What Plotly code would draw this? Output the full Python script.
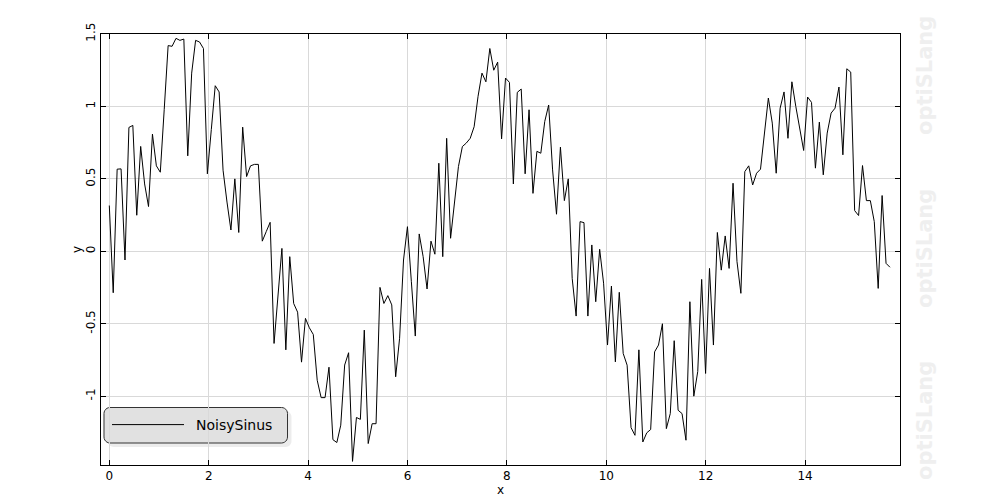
import math
import numpy as np
import plotly.graph_objects as go

# ---- data ----
series_name = "NoisySinus"
x_start = 0.0
x_end = 5 * np.pi
y_values = [
    0.316, -0.286, 0.567, 0.569, -0.06, 0.855, 0.869, 0.249, 0.724, 0.465,
    0.309, 0.809, 0.59, 0.546, 0.98, 1.42, 1.415, 1.47, 1.456, 1.465,
    0.659, 1.23, 1.456, 1.445, 1.40, 0.535, 0.84, 1.143, 1.10, 0.56,
    0.34, 0.147, 0.50, 0.13, 0.857, 0.516, 0.59, 0.60, 0.60, 0.07,
    0.136, 0.20, -0.636, -0.31, 0.02, -0.68, -0.037, -0.36, -0.42, -0.765,
    -0.463, -0.528, -0.574, -0.89, -1.01, -1.01, -0.80, -1.30, -1.32, -1.20,
    -0.785, -0.70, -1.45, -1.147, -1.16, -0.544, -1.327, -1.19, -1.19, -0.249,
    -0.36, -0.306, -0.37, -0.866, -0.60, -0.06, 0.17, -0.21, -0.585, 0.12,
    -0.037, -0.26, 0.07, -0.02, 0.608, -0.037, 0.78, 0.09, 0.33, 0.585,
    0.723, 0.747, 0.78, 0.86, 1.07, 1.23, 1.17, 1.40, 1.25, 1.306,
    0.776, 1.196, 1.166, 0.465, 1.097, 1.12, 0.535, 0.977, 0.40, 0.69,
    0.677, 0.896, 1.01, 0.562, 0.256, 0.719, 0.35, 0.50, -0.187, -0.447,
    0.205, 0.198, -0.447, 0.044, -0.348, 0.014, -0.22, -0.647, -0.24, -0.763,
    -0.283, -0.705, -0.786, -1.217, -1.27, -0.68, -1.316, -1.253, -1.23, -0.694,
    -0.647, -0.50, -1.224, -1.12, -0.617, -1.097, -1.12, -1.304, -0.348, -1.0,
    -0.83, -0.194, -0.843, -0.118, -0.647, 0.13, -0.13, 0.106, -0.118, 0.47,
    -0.07, -0.29, 0.55, 0.59, 0.458, 0.539, 0.567, 0.816, 1.058, 0.885,
    0.539, 0.988, 1.10, 0.78, 1.17, 1.0, 0.84, 0.696, 1.065, 1.028,
    0.574, 0.892, 0.528, 0.816, 0.954, 0.988, 1.134, 0.666, 1.26, 1.237,
    0.281, 0.247, 0.592, 0.35, 0.35, 0.205, -0.256, 0.385, -0.083, -0.11,
]
x_values = np.linspace(x_start, x_end, len(y_values))
x_ticks = [0, 2, 4, 6, 8, 10, 12, 14]
y_ticks = [-1, -0.5, 0, 0.5, 1, 1.5]
y_tick_labels = ["-1", "-0.5", "0", "0.5", "1", "1.5"]
watermark = "optiSLang"

# ---- layout geometry (screen pixels; page body adds an 8px offset) ----
W, H = 1000, 500
OFF = 8
L, R, T, B = 101, 900, 34, 465   # plot frame on screen
FONT = "DejaVu Sans"


def px2paper(px, py):
    return (px - L) / (R - L), (B - py) / (B - T)


def rounded_rect(x0, y0, x1, y1, r):
    pts = []
    corners = [(x1 - r, y0 + r, -90, 0), (x1 - r, y1 - r, 0, 90),
               (x0 + r, y1 - r, 90, 180), (x0 + r, y0 + r, 180, 270)]
    for cx, cy, a0, a1 in corners:
        for k in range(7):
            a = math.radians(a0 + (a1 - a0) * k / 6)
            pts.append(px2paper(cx + r * math.cos(a), cy + r * math.sin(a)))
    return "M " + " L ".join(f"{p[0]:.5f},{p[1]:.5f}" for p in pts) + " Z"


fig = go.Figure()
fig.add_trace(go.Scatter(
    x=x_values, y=y_values, mode="lines", name="\u2002" + series_name,
    line=dict(color="black", width=1), showlegend=True,
))

shapes = [
    dict(type="path", xref="paper", yref="paper", layer="below",
         path=rounded_rect(108, 411, 291.5, 447, 6),
         fillcolor="#ececec", line=dict(width=0)),
    dict(type="path", xref="paper", yref="paper", layer="below",
         path=rounded_rect(104, 407.5, 287.5, 443, 6),
         fillcolor="#e1e1e1", line=dict(color="#333333", width=1)),
]

annotations = []
for cy in [76, 249, 421]:
    ax, ay = px2paper(925, cy)
    annotations.append(dict(
        text=f"<b>{watermark}</b>", x=ax, y=ay, xref="paper", yref="paper",
        showarrow=False, textangle=-90, xanchor="center", yanchor="middle",
        font=dict(family=FONT, size=21, color="#efefef"),
    ))

lx, ly = px2paper(107, 425)

fig.update_layout(
    width=W, height=H,
    margin=dict(l=L - OFF, r=W - (R - OFF), t=T - OFF, b=H - (B - OFF), pad=0),
    paper_bgcolor="white", plot_bgcolor="white",
    font=dict(family=FONT, size=12, color="black"),
    shapes=shapes,
    annotations=annotations,
    showlegend=True,
    legend=dict(
        x=lx, y=ly, xanchor="left", yanchor="middle",
        bgcolor="rgba(0,0,0,0)", borderwidth=0,
        font=dict(family=FONT, size=14, color="black"),
        itemwidth=72,
    ),
    xaxis=dict(
        range=[-0.167, 15.91],
        tickmode="array", tickvals=x_ticks,
        ticks="inside", ticklen=5, tickcolor="black",
        showline=True, linecolor="black", linewidth=1, mirror="ticks",
        showgrid=True, gridcolor="#d9d9d9", gridwidth=1, zeroline=False,
        title=dict(text="x", standoff=0, font=dict(size=12)),
        tickfont=dict(size=12),
    ),
    yaxis=dict(
        range=[-1.475, 1.5],
        tickmode="array", tickvals=y_ticks, ticktext=y_tick_labels,
        tickangle=-90,
        ticks="inside", ticklen=5, tickcolor="black",
        showline=True, linecolor="black", linewidth=1, mirror="ticks",
        showgrid=True, gridcolor="#d9d9d9", gridwidth=1, zeroline=False,
        title=dict(text="y", standoff=0, font=dict(size=12)),
        tickfont=dict(size=12),
    ),
)

fig.write_html("out.html")
